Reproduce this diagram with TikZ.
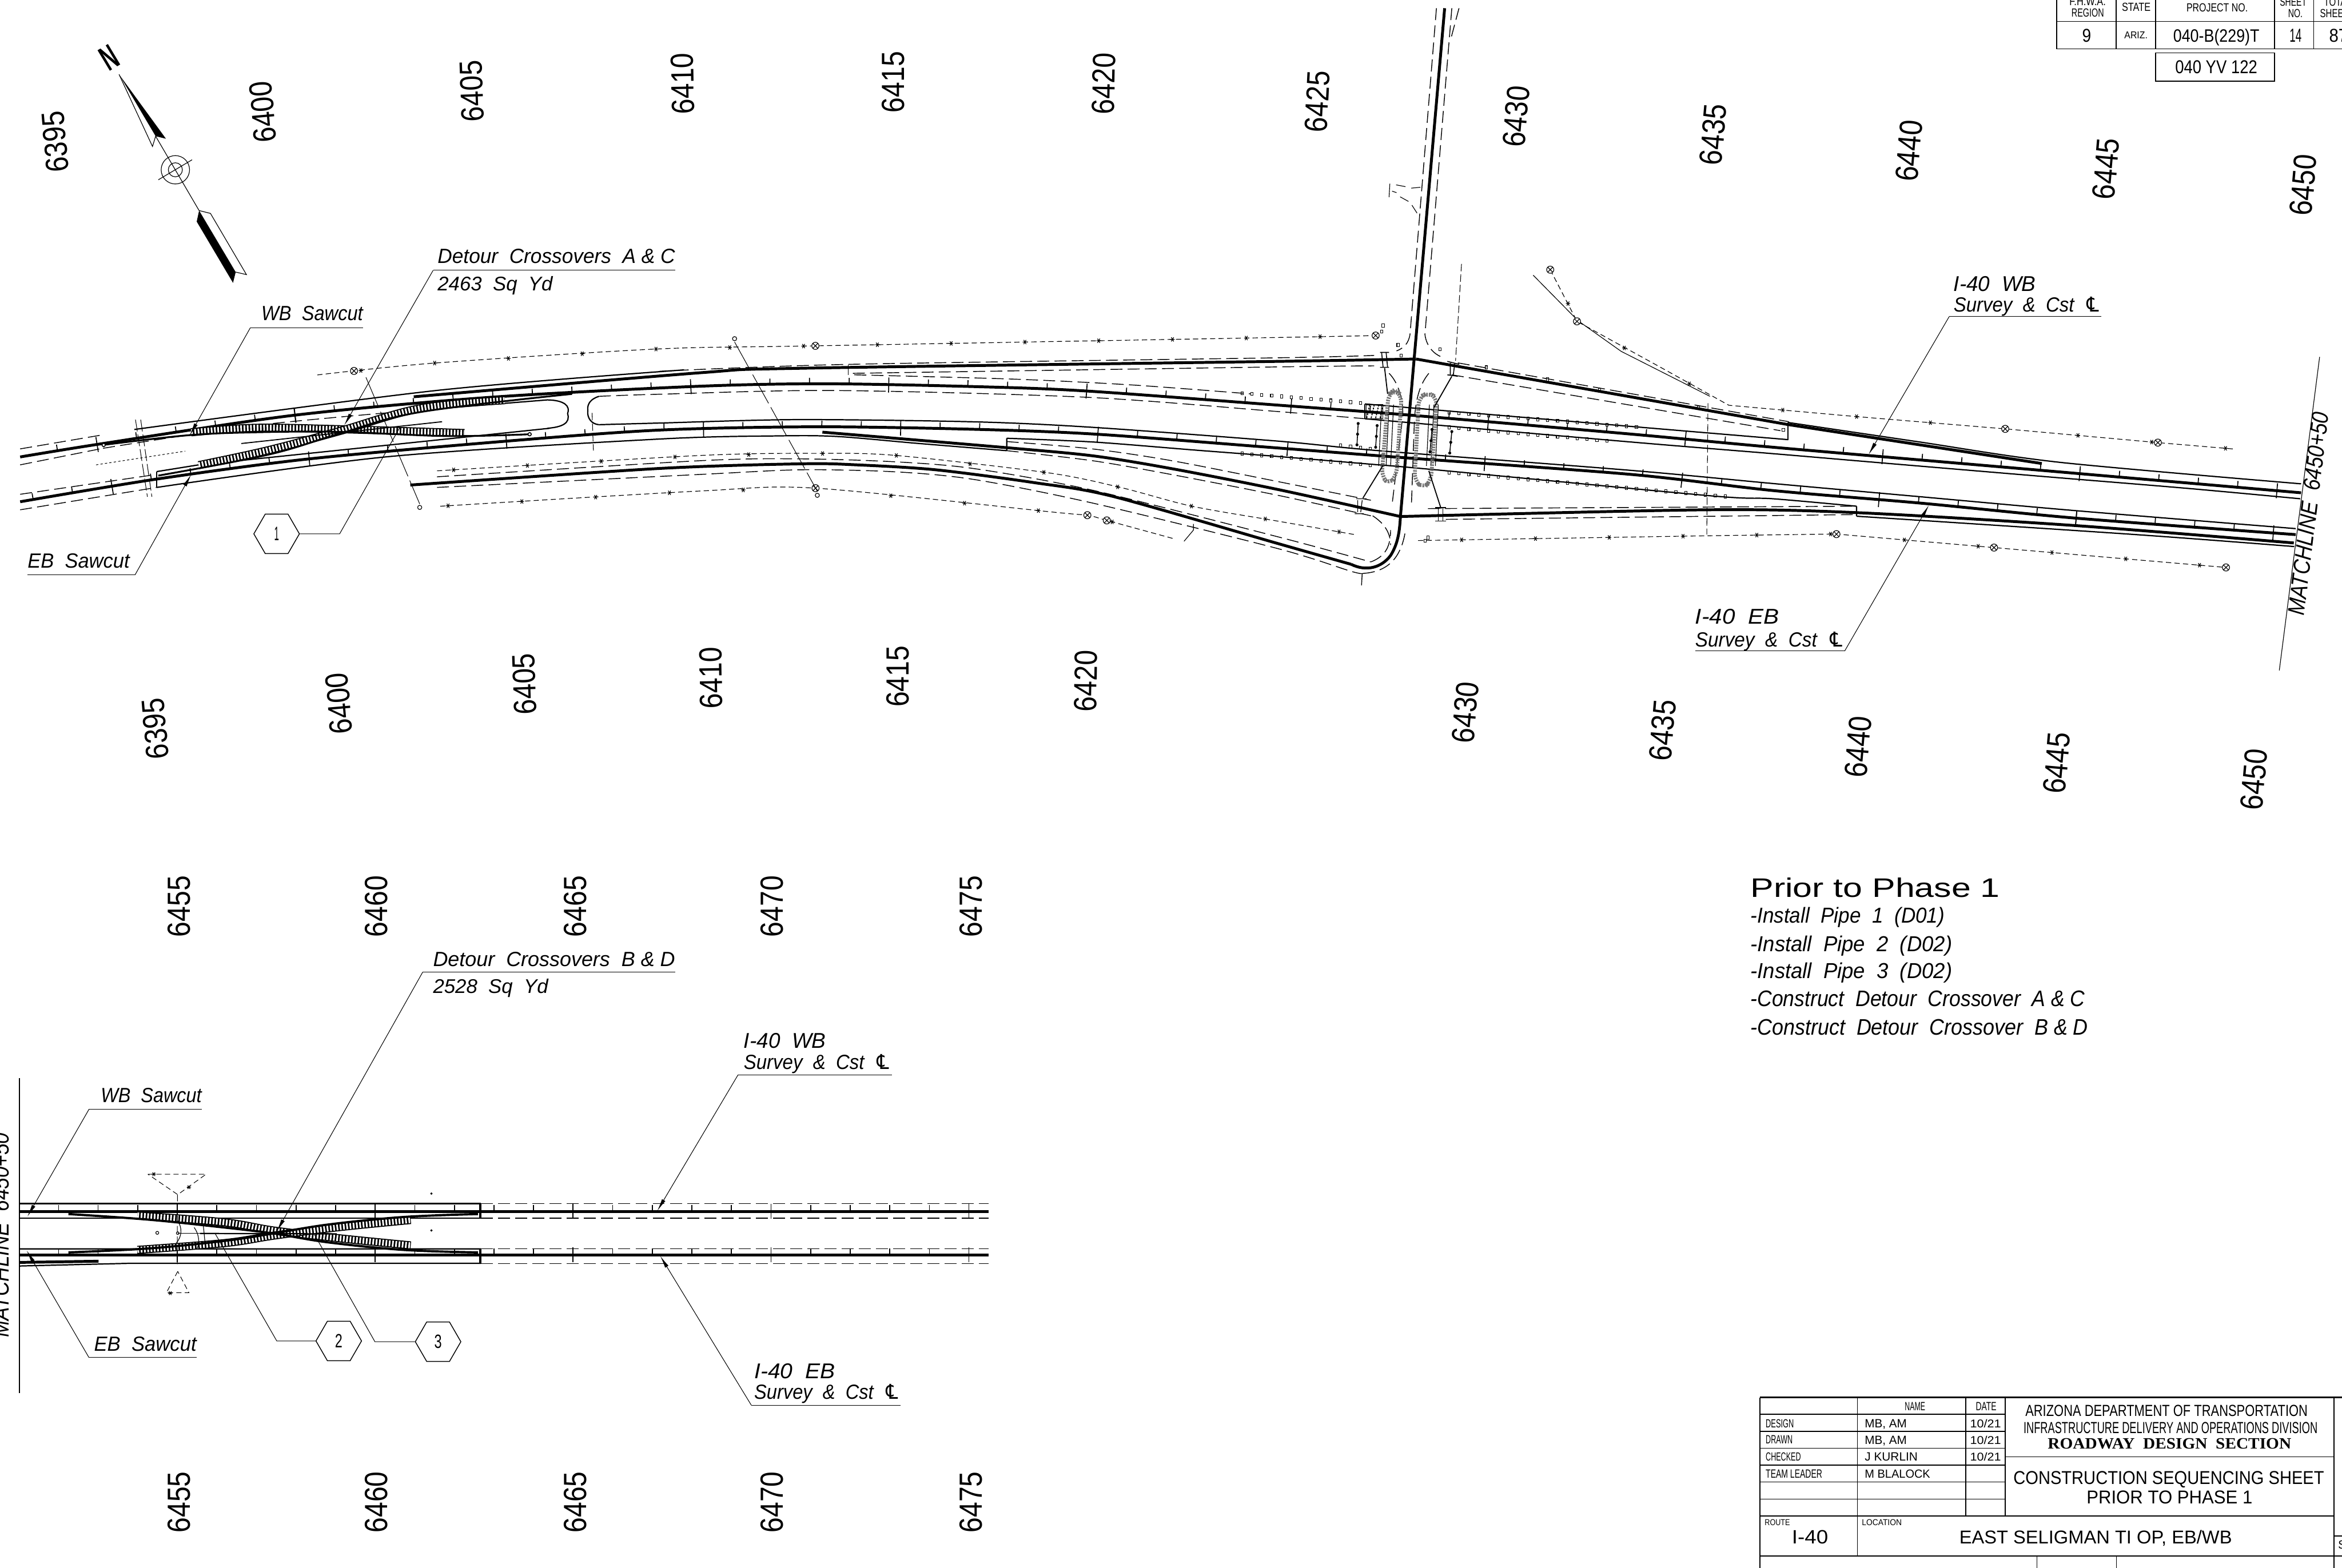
\documentclass[tikz,border=0pt]{standalone}
\usepackage{fontspec}
\usepackage{graphicx}
\setmainfont{Liberation Sans}
\newfontfamily\cadserif{Liberation Serif}
\newfontfamily\cadsym{DejaVu Sans}
\usetikzlibrary{arrows.meta,shapes.geometric,calc}
\newcommand{\cadfit}[3]{\resizebox{#1pt}{#2pt}{#3}}
\newcommand{\cadcl}{{\cadsym ℄}}
% marks along a polyline, at every step of x counted from a first x
\newcommand{\alongrun}[4]{%
	\gdef\tickprev{}%
	\foreach \px/\py in {#3}{%
		\ifx\tickprev\empty\else
			\pgfmathtruncatemacro\ia{ceil((\prevx-#1)/#2)}%
			\pgfmathtruncatemacro\ib{floor((\px-#1)/#2)}%
			\ifnum\ib<\ia\else
				\foreach \ti in {\ia,...,\ib}{%
					\pgfmathsetmacro\tx{#1+\ti*#2}%
					\pgfmathsetmacro\tslope{(\py-\prevy)/(\px-\prevx)}%
					\pgfmathsetmacro\ty{\prevy+(\tx-\prevx)*\tslope}%
					#4%
				}%
			\fi
		\fi
		\xdef\prevx{\px}\xdef\prevy{\py}\gdef\tickprev{x}%
	}%
}
\newcommand{\tickrun}[3]{\alongrun{#1}{#2}{#3}{%
	\pgfmathtruncatemacro\tmod{mod(abs(\ti),5)}%
	\ifnum\tmod=0
		\draw[tickline] (\tx+5*\tslope,\ty-5)--(\tx-5*\tslope,\ty+5);
	\else
		\draw[tickline] (\tx,\ty)--(\tx+4.2*\tslope,\ty-4.2);
	\fi}}
\newcommand{\starrun}[3]{\alongrun{#1}{#2}{#3}{\draw[tickline,line width=.45pt] (\tx-1.4,\ty)--(\tx+1.4,\ty) (\tx-.8,\ty-1.4)--(\tx+.8,\ty+1.4) (\tx-.8,\ty+1.4)--(\tx+.8,\ty-1.4);}}
\newcommand{\squarerun}[1]{\alongrun{0}{6.6}{#1}{\draw[tickline,line width=.4pt] (\tx-.8,\ty-1) rectangle (\tx+.8,\ty+1);}}
\tikzset{
	cadtext/.style={anchor=base west,inner sep=0pt,outer sep=0pt},
	cadmid/.style={anchor=center,inner sep=0pt,outer sep=0pt},
	roadmain/.style={line width=1.9pt},
	roadedge/.style={line width=.85pt},
	roaddash/.style={line width=.55pt,dash pattern=on 8pt off 3.5pt},
	fineline/.style={line width=.45pt},
	tickline/.style={solid,line width=.65pt},
	tableline/.style={line width=.6pt},
	longdash/.style={line width=.4pt,dash pattern=on 22pt off 3pt},
	leader/.style={line width=.4pt},
	tipped/.style={-{Latex[length=8.5pt,width=2.6pt]}},
	hexmark/.style={draw,line width=.55pt,regular polygon,regular polygon sides=6,minimum size=30.5pt,inner sep=0pt},
	hatchband/.style={draw=white,line width=4pt,dash pattern=on 1.1pt off 1.1pt,preaction={draw=black,solid,line width=5.4pt}},
	rockband/.style={draw=black!55,line width=2.6pt,dash pattern=on 1pt off .7pt},
	fenceline/.style={line width=.45pt,dash pattern=on 3.5pt off 2.2pt}
}
\begin{document}
\begin{tikzpicture}[x=1pt,y=-1pt]
\useasboundingbox (0,0) rectangle (1568,1050);
% stations
\foreach \lab/\x/\y/\r in {6395/37/95/95,6400/176/75/95,6405/316/61/92,6410/457/56/91,6415/598/55/90,6420/739/56/89,6425/882/68/87,6430/1015/78/85,6435/1147/90/85,6440/1278/101/85,6445/1410/113/85,6450/1542/124/85}
	\node[cadmid,rotate=\r] (top\lab) at (\x,\y) {\cadfit{41}{15}{\lab}};
\foreach \lab/\x/\y/\r in {6395/104/488/95,6400/227/471/95,6405/351/458/92,6410/476/454/91,6415/601/453/90,6420/727/456/89,6430/981/477/85,6435/1113/489/85,6440/1244/500/85,6445/1377/511/85,6450/1509/522/85}
	\node[cadmid,rotate=\r] (low\lab) at (\x,\y) {\cadfit{41}{15}{\lab}};
\foreach \lab/\x in {6455/120,6460/252,6465/385,6470/517,6475/650}{
	\node[cadmid,rotate=90] (north\lab) at (\x,607) {\cadfit{41}{15}{\lab}};
	\node[cadmid,rotate=90] (south\lab) at (\x,1006) {\cadfit{41}{15}{\lab}};
}
% north arrow
\node[cadmid,rotate=31] (northN) at (73,38.5) {\cadfit{10}{16}{\bfseries N}};
\fill (79.7,49.8)--(111.1,92.9)--(104.2,91.2)--cycle;
\draw[fineline] (79.7,49.8)--(102.1,98.1)--(104.2,91.2)--(133.3,141);
\draw[fineline] (117.4,113.7) circle (9.5) circle (4.7) (106,120.4)--(128.6,107);
\fill (133.3,141)--(131.7,148.4)--(156,189.4)--(157.8,182.2)--cycle;
\draw[fineline] (133.3,141)--(140.9,142.9)--(165,183.9)--(157.8,182.2);
% WB and EB mainline, upper plan
\draw[roadmain] plot[smooth,tension=.5] coordinates {(13.5,306)(69,297)(197.5,278)(329,266)(467,258.7)(552.5,257)(652.8,258.9)(726.7,261.8)(855.6,271.3)(944,278)(1092,290.7)(1187,299.5)(1367,315)(1540.6,330)};
\tickrun{197.5}{26.5}{13.5/306,69/297,197.5/278,329/266,467/258.7,552.5/257,652.8/258.9,726.7/261.8,850/270.9}
\tickrun{864.4}{26.4}{855.6/271.3,944/278,1092/290.7,1187/299.5,1367/315,1540.6/330}
\draw[roadmain] plot[smooth,tension=.5] coordinates {(13.5,336)(105,320.8)(206,307.4)(338,295.5)(441.6,288)(547,285.8)(652.8,287.5)(734.6,290.8)(855.6,300)(941.5,306.6)(1092,317.7)(1187,328.5)(1286.7,337)(1390,347)(1537,358)};
\tickrun{207}{26.4}{13.5/336,105/320.8,206/307.4,338/295.5,441.6/288,547/285.8,652.8/287.5,734.6/290.8,855.6/300}
\tickrun{994}{26.4}{860/300.3,941.5/306.6,1092/317.7,1187/328.5,1286.7/337,1390/347,1537/358}
% ramps
\draw[roadmain] plot[smooth,tension=.5] coordinates {(277,265.7)(469,249.6)(536.6,246.6)(855.6,242)(948,240.4)};
\draw[roadmain] (948,240.4)--(1197.6,284.4) plot[smooth,tension=.5] coordinates {(1197.6,284.4)(1260,294)(1367,310.4)};
\draw[roadmain] plot[smooth,tension=.5] coordinates {(550.6,289.4)(674,299.8)(732,305.3)(784.8,313.9)(855.6,327.8)(937.6,345.9)};
\draw[roadmain] plot[smooth,tension=.5] coordinates {(937.6,345.9)(1142,341.4)(1243,343.3)(1390,352)(1535.7,363.6)};
\draw[roadmain] plot[smooth,tension=.5] coordinates {(274.7,324.8)(441.6,313.7)(536.6,310.6)(573.6,311.3)(626.4,314.6)(692.4,323.2)(745,332.4)(855.6,364)(904.6,377.9)};
\draw[roadmain] (904.6,377.9) .. controls (915,383) and (925,380) .. (931,372) .. controls (936,364) and (937,356) .. (937.6,345.9);
\draw[roadmain] (967.2,5.5)--(937.6,345.9);
% crossroad edges
\draw[roaddash] (961.7,5.5)--(944,224) .. controls (943,230) and (940,233) .. (935,235);
\draw[roaddash] (972,5.5)--(954,224) .. controls (955,232) and (960,237) .. (965,239);
\draw[roaddash] (976.8,5.5)--(970.9,27.7);
\draw[roaddash] (956.6,250) .. controls (950,258) and (948,268) .. (947,280) -- (945,337);
\draw[roaddash] (930,250) .. controls (936,256) and (940,268) .. (939,280) -- (932,338);
\draw[roaddash] (912,384)--(911.4,394.5);
\draw[fineline] (930.5,123)--(930,132) (934.7,123.8)--(941,125) (944.8,126)--(951,125.4) (932,128)--(935,129) (937.4,131.8)--(943,134.9) (945.3,137.4)--(948.7,142.7);
% edges of the mainline
\draw[roaddash] (13.5,300.6)--(67,291.5);
\draw[roaddash] (13.5,311.3)--(69,300.2) plot[smooth] coordinates {(69,300.2)(170,285)(276,275)};
\draw[roaddash] (13.5,331)--(105,317.7);
\draw[roaddash] (13.5,341.4)--(105,326.4);
\draw[roadedge] plot[smooth,tension=.5] coordinates {(90,287.6)(293,261.4)(458,247.7)};
\draw[roadedge] (276.8,275)--(366.5,267.8) .. controls (378,268) and (382,272) .. (380,277) .. controls (382,283) and (377,286) .. (366.5,286.8);
\draw[roadedge] (401,265.4) .. controls (396,267) and (393,270) .. (393.5,274.9) .. controls (393,280) and (396,284) .. (401,284.4);
\draw[roadedge] (105,315.8)--(105,326.4);
\draw[roadedge] plot[smooth,tension=.5] coordinates {(105,326.4)(260,305.8)(441.6,294)(520.8,291.9)(560.4,292.3)(613,296.8)(674,301.8)};
\draw[roadedge] (105,315.8)--(133,311.3)--(368,286.8);
\draw[roadedge] plot[smooth,tension=.5] coordinates {(401,284.4)(441.6,283.3)(534,281)(652.8,282.5)(732,286.2)(855.6,295.4)(923,301.8)(1092,315)(1187,323.8)(1284,332.5)(1390,342)(1537,354)};
\draw[roadedge] plot[smooth,tension=.5] coordinates {(913.8,270.5)(1097,286)(1197,294.4)};
\draw[roadedge] plot[smooth,tension=.5] coordinates {(913.8,280.4)(1092,296)(1187,303.8)(1260,310)(1367,319)(1464,327)(1540,334)};
\draw[roadedge] plot[smooth,tension=.5] coordinates {(1197,282.9)(1284,295.8)(1379,309.6)(1540.6,324)};
\draw[roadedge] (1197,282.9)--(1197,294.6);
\draw[roadedge] (674,293.5)--(674,301.8) plot[smooth,tension=.5] coordinates {(674,293.5)(732,296)(800,301.4)(855.6,305.7)(923,311.3)};
\draw[roadedge] plot[smooth,tension=.5] coordinates {(923,311.3)(960,314.5)(1145,332)(1187,334)(1243,339)};
\draw[roadedge] (1243,339)--(1243,345.7) plot[smooth,tension=.5] coordinates {(1243,345.7)(1430,358)(1536,366)};
% dashed shoulders
\draw[roaddash] plot[smooth,tension=.5] coordinates {(441.6,248.6)(568,244)(855.6,239.6)(920,238)};
\draw[roaddash] plot[smooth,tension=.5] coordinates {(571,250)(855.6,245.7)(920,245)};
\draw[roaddash] (568,244.4)--(568,251);
\draw[roaddash] plot[smooth,tension=.5] coordinates {(572,251)(679,253.9)(758,257.8)(837.6,263.8)};
\draw[roaddash] plot[smooth,tension=.5] coordinates {(401,265.4)(441.6,264)(557.8,261.5)(726.7,266)(855.6,275.6)(913.8,280.4)};
\draw[roaddash] plot[smooth,tension=.5] coordinates {(674,295.7)(732,300.7)(785,308.6)(855.6,322.5)(917.8,335)};
\draw[roaddash] plot[smooth,tension=.5] coordinates {(674,301.8)(732,308.6)(785,317.9)(855.6,331.7)(917.8,345.4)};
\draw[roaddash] plot[smooth,tension=.5] coordinates {(292.6,319.3)(469,308.5)(536.6,307.3)(600,309.3)(652.8,313.9)(732,328.4)(855.6,359.5)(917.8,376.3)};
\draw[roaddash] plot[smooth,tension=.5] coordinates {(292.6,326.4)(469,317.7)(536.6,314.6)(600,316)(652.8,321.2)(732,337)(855.6,367.4)(904.6,382.6)(912.5,384)};
\draw[roaddash] (917.8,376.3) .. controls (926,373) and (931,368) .. (931,355) (919,345.4) .. controls (926,350) and (931,356) .. (931,365);
\draw[roaddash] (912.5,384) .. controls (928,383) and (938,375) .. (941,355);
\draw[roaddash] (976,243)--(1197.6,282.4) (972,251)--(1192,288.4);
\draw[roaddash] (956,340.6)--(1242,339) (968,347.8)--(1242,344.6);
% fences
\draw[fenceline] plot[smooth,tension=.5] coordinates {(212.4,251.1)(290,243.2)(440,233.7)(545.9,231.6)(855.6,226)(921,224.7)};
\starrun{291}{49.4}{212.4/251.1,290/243.2,440/233.7,545.9/231.6,855.6/226,921/224.7}
\draw[fenceline] plot[smooth,tension=.5] coordinates {(292.6,315.3)(469,305)(547,303.6)(600,305)(701.6,316.6)(750.5,326.5)(798,339)(855.6,349)(907,358)};
\starrun{303.7}{49.4}{292.6/315.3,469/305,547/303.6,600/305,701.6/316.6,750.5/326.5,798/339,855.6/349,907/358}
\draw[fenceline] plot[smooth,tension=.5] coordinates {(294.7,339)(469,328.8)(546,326.9)(705.6,343)(728,345)(741,348.5)(786,360.8)};
\starrun{300}{49.4}{294.7/339,469/328.8,546/326.9,705.6/343,728/345,741/348.5,786/360.8}
\draw[fenceline] (1037.9,180.6)--(1055.8,215.2)--(1110,245)--(1157.5,271.4)--(1242,278.9)--(1342.5,287.2)--(1444.7,296.4)--(1496.9,300.8);
\starrun{1193.6}{49.4}{1157.5/271.4,1242/278.9,1342.5/287.2,1444.7/296.4,1496.9/300.8}
\draw[fenceline] (949.4,362)--(1142,358.8)--(1229,357.6)--(1335,366.7)--(1490.3,380);
\starrun{1028}{49.4}{949.4/362,1142/358.8,1229/357.6,1335/366.7,1490.3/380}
\foreach \x/\y in {1049.8/203.3,1087.5/233,1131/257}
	\draw[tickline,line width=.45pt] (\x-1.4,\y)--(\x+1.4,\y) (\x-.8,\y-1.4)--(\x+.8,\y+1.4) (\x-.8,\y+1.4)--(\x+.8,\y-1.4);
\draw[fineline] (1026.5,184.3)--(1056.4,214.7)--(1085.4,235.3)--(1144.8,265.4);
\foreach \x/\y in {237/248.4,545.9/231.6,921/224.7,546/326.9,728/345,741/348.5,1037.9/180.6,1055.8/215.2,1229.5/357.7,1335/366.7,1342.5/287.2,1444.7/296.4,1490.3/380}
	\draw[line width=.45pt,fill=white] (\x,\y) circle (2.4) (\x-1.7,\y-1.7)--(\x+1.7,\y+1.7) (\x-1.7,\y+1.7)--(\x+1.7,\y-1.7);
% utility runs
\draw[longdash] (491.8,229)--(547.2,329);
\draw[longdash] (245,252.7)--(281,337.5);
\draw[fineline] (491.8,226.8) circle (1.4) (547.2,331.7) circle (1.4) (281,339.8) circle (1.4);
\draw[line width=.4pt,dash pattern=on 5pt off 2pt] (1143.5,270)--(1142.7,358) (978.5,176.7)--(974.5,241.6);
\draw[line width=.4pt,dash pattern=on 5pt off 2pt] (396.4,276.5)--(397.3,301.8);
\draw[line width=.4pt,dash pattern=on 1.5pt off 1.5pt] (64.3,311.3)--(124,302.1);
\draw[line width=.4pt,dash pattern=on 8pt off 2pt] (90.7,281)--(98.7,332.7) (94.2,281)--(101.7,332.7);
% crossovers, upper plan
\draw[hatchband] plot[smooth,tension=.6] coordinates {(128,289.5)(170.5,286.5)(227,287.4)(311,290)};
\draw[hatchband] plot[smooth,tension=.6] coordinates {(133,311.5)(179.5,301.5)(227,288.8)(281,273.5)(338,268)};
\draw[line width=1.2pt] plot[smooth,tension=.6] coordinates {(69.4,297.9)(125.7,291.5)(170.5,289.5)(227,289.2)(299,292)(354.6,290.8)};
\draw[line width=1.2pt] plot[smooth,tension=.6] coordinates {(106,318.5)(179.5,304.5)(227,290.5)(281,276)(383,263.8)};
\draw[line width=.7pt] (161.6,297)--(296,282.4);
\draw[fill=white,line width=.6pt] (69.4,298) circle (1.1) (354.6,290.8) circle (1.1);
% intersection
\squarerun{828/263,913/270}
\squarerun{968/276,1097/286}
\squarerun{968/286,1079/295.5}
\squarerun{828/303.4,923/312}
\squarerun{894/298,923/301}
\squarerun{965/316,1158/332.7}
\draw[line width=.9pt] (913.8,270.5)--(913.8,280.4);
\draw[line width=.5pt] (914.6,271) rectangle (925.7,280.4);
\foreach \x in {915,918,921,924}
	\draw[line width=.7pt,dash pattern=on 1.2pt off .8pt] (\x,280)--(\x+2,271.5);
\foreach \x in {923,928,931,955,958,961}
	\draw[fineline] (\x+2,271)--(\x,312);
\draw[rockband,rounded corners=5pt] (929.6,264)--(933.6,261)--(938.4,264.6)--(935,318)--(930,324.6)--(925,319)--cycle;
\draw[rockband,rounded corners=5pt] (950,266)--(956,263)--(962,266)--(958,322)--(953,327)--(947,322)--cycle;
\draw[line width=.7pt] (927,246.4)--(929,263.8) (972,252)--(960,273) (925.7,312)--(912.5,333.5) (956.6,315.3)--(964.8,340.6);
\draw[line width=.6pt] (924,236)--(930,236) (924,246)--(930,246) (925,236)--(926,246) (928,236)--(929,246);
\draw[line width=.6pt] (969,242)--(977,244) (969,251)--(976,252) (971,243)--(971,251) (974,243)--(973,251);
\draw[line width=.5pt] (908,334)--(915,334) (907,344)--(913,344) (909,335)--(909,343) (912,335)--(911,343);
\draw[line width=.6pt] (961,340)--(968,340) (961,349)--(968,349) (963,340)--(963,349) (966,340)--(966,349);
\foreach \xa/\ya/\xb/\yb in {909.3/283.6/908.5/297.9,922/285/921/299.5,958.7/287.6/957.4/302.6,972/289/970.6/303.4}{
	\draw[line width=.6pt] (\xa,\ya)--(\xb,\yb);
	\fill (\xa,\ya) circle (1) (\xb,\yb) circle (1) ($(\xa,\ya)!.5!(\xb,\yb)$) circle (1);
}
\foreach \x/\y in {936/231,938/238,995/246,1036/254,1071/261,1137/273,1194/288,964/234,926/218,925/222,956/360,954/362}
	\draw[line width=.4pt] (\x-.8,\y-1) rectangle (\x+.8,\y+1);
\draw[fineline] (799,350.9)--(799,355)--(792.7,362.5);
% lower plan mainline
\draw[roadmain] (13,811.3)--(662,811.3) (13,840.4)--(662,840.4);
\tickrun{118.7}{26.5}{39/811.3,662/811.3}
\tickrun{118.7}{26.5}{39/840.4,662/840.4}
\draw[roadedge] (13,806)--(321.5,806)--(321.5,815.7)--(60.6,815.7);
\draw[roadedge] (13,815.7)--(60.6,815.7);
\draw[roadedge] (13,836.3)--(321.5,836.3)--(321.5,846)--(87,846)--(13,847.8);
\draw[roaddash] (322,806)--(662,806) (322,815.8)--(662,815.8) (322,836.2)--(662,836.2) (322,846.1)--(662,846.1);
\draw[roadmain] (13,845.4)--(66,844.6);
\draw[line width=1.6pt] (321.5,806)--(321.5,815.7) (321.5,836.3)--(321.5,846);
% crossovers, lower plan
\draw[hatchband] plot[smooth,tension=.6] coordinates {(92,814)(150,818.5)(183,824)(225,829)(275,834)};
\draw[hatchband] plot[smooth,tension=.6] coordinates {(92,837)(150,832.5)(183,827.5)(225,822)(275,817)};
\draw[line width=1.5pt] plot[smooth,tension=.6] coordinates {(45.8,813)(100,816.8)(150,822)(183,826)(220,832)(270,837)(320,838.7)};
\draw[line width=1.5pt] plot[smooth,tension=.6] coordinates {(45.8,838.7)(100,836)(150,831)(183,826)(220,820)(270,815)(320,813)};
\draw[roadedge] (134,826)--(225.4,826.3);
\draw[fineline] (119,826)--(134,826);
\draw[fineline] (119,817.6) .. controls (122,822) and (122,828) .. (118,832.4);
\draw[fineline] (130,822) .. controls (133,826) and (134,832) .. (132,836) (136,820) .. controls (137,828) and (137,832) .. (138,836);
\draw[fineline] (105.3,825.6) circle (1) (119,825.8) circle (.9) (288.8,799.3) circle (.5) (288.8,824) circle (.5);
% cross section marks
\draw[line width=.4pt,dash pattern=on 3.5pt off 2.2pt] (99,786.3)--(138,786.3)--(119,800)--cycle;
\draw[line width=.4pt,dash pattern=on 4.5pt off 2.5pt] (118.8,800)--(118.7,848.5);
\draw[line width=.4pt,dash pattern=on 3.5pt off 2.2pt] (119,851.4)--(111.4,865.7)--(126.5,865.7)--cycle;
\foreach \x/\y in {103/786.3,126.5/795,114/866}
	\draw[line width=.45pt] (\x-1.4,\y)--(\x+1.4,\y) (\x-.8,\y-1.2)--(\x+.8,\y+1.2) (\x-.8,\y+1.2)--(\x+.8,\y-1.2);
% matchlines
\draw[fineline] (1553,239)--(1526,449);
\node[cadmid,rotate=83] (matchone) at (1545.5,344) {\cadfit{137}{11}{\itshape MATCHLINE\ \ 6450+50}};
\draw[fineline] (13,722)--(13,933);
\node[cadmid,rotate=90] (matchtwo) at (0.5,827) {\cadfit{137}{11}{\itshape MATCHLINE\ \ 6450+50}};
% leaders, upper plan
\node[cadtext] (labelac) at (293,176.4) {\cadfit{159}{9.6}{\itshape Detour\ \ Crossovers\ \ A\ \&\ C}};
\node[cadtext] (areaac) at (293,194.6) {\cadfit{77}{9.6}{\itshape 2463\ \ Sq\ \ Yd}};
\coordinate (acbend) at (290,181);
\coordinate (actip) at (230.4,285);
\draw[leader] (452,181)--(acbend);
\draw[leader,tipped] (acbend)--(actip);
\node[cadtext] (labelwbone) at (175,214.7) {\cadfit{68}{9.6}{\itshape WB\ \ Sawcut}};
\coordinate (wbonebend) at (167.6,219.5);
\coordinate (wbonetip) at (127,291.5);
\draw[leader] (243,219.5)--(wbonebend);
\draw[leader,tipped] (wbonebend)--(wbonetip);
\node[cadtext] (labelebone) at (18.5,380.2) {\cadfit{68.3}{9.6}{\itshape EB\ \ Sawcut}};
\coordinate (ebonebend) at (90.4,385);
\coordinate (ebonetip) at (128,317.7);
\draw[leader] (18.5,385)--(ebonebend);
\draw[leader,tipped] (ebonebend)--(ebonetip);
\node[hexmark] (hexone) at (185.2,357.5) {\cadfit{3.2}{9}{1}};
\coordinate (hexonebend) at (227.4,357.5);
\coordinate (hexonetip) at (267.8,286);
\draw[leader] (hexone.east)--(hexonebend)--(hexonetip);
\node[cadtext] (labelwbsurvey) at (1308,195) {\cadfit{55}{10}{\itshape I-40\ \ WB}};
\node[cadtext] (textwbsurvey) at (1308,209) {\cadfit{99}{10}{\itshape Survey\ \ \&\ \ Cst\ \ \cadcl}};
\coordinate (wbsurveybend) at (1305,212);
\coordinate (wbsurveytip) at (1251,304.5);
\draw[leader] (1407,212)--(wbsurveybend);
\draw[leader,tipped] (wbsurveybend)--(wbsurveytip);
\node[cadtext] (labelebsurvey) at (1135,418) {\cadfit{56}{10}{\itshape I-40\ \ EB}};
\node[cadtext] (textebsurvey) at (1135,433) {\cadfit{100}{10}{\itshape Survey\ \ \&\ \ Cst\ \ \cadcl}};
\coordinate (ebsurveybend) at (1235,436);
\coordinate (ebsurveytip) at (1291.4,338.3);
\draw[leader] (1135,436)--(ebsurveybend);
\draw[leader,tipped] (ebsurveybend)--(ebsurveytip);
% leaders, lower plan
\node[cadtext] (labelbd) at (290,647) {\cadfit{162}{9.6}{\itshape Detour\ \ Crossovers\ \ B\ \&\ D}};
\node[cadtext] (areabd) at (290,665) {\cadfit{77}{9.6}{\itshape 2528\ \ Sq\ \ Yd}};
\coordinate (bdbend) at (283,651);
\coordinate (bdtip) at (185.3,824.6);
\draw[leader] (452,651)--(bdbend);
\draw[leader,tipped] (bdbend)--(bdtip);
\node[cadtext] (labelwbtwo) at (67.5,738.4) {\cadfit{67.5}{9.6}{\itshape WB\ \ Sawcut}};
\coordinate (wbtwobend) at (59.5,743);
\coordinate (wbtwotip) at (18.3,814.8);
\draw[leader] (135,743)--(wbtwobend);
\draw[leader,tipped] (wbtwobend)--(wbtwotip);
\node[cadtext] (labelebtwo) at (63,904.9) {\cadfit{68.6}{9.6}{\itshape EB\ \ Sawcut}};
\coordinate (ebtwobend) at (59.5,909);
\coordinate (ebtwotip) at (17.8,837.3);
\draw[leader] (131.6,909)--(ebtwobend);
\draw[leader,tipped] (ebtwobend)--(ebtwotip);
\node[hexmark] (hextwo) at (226.8,898) {\cadfit{5}{9}{2}};
\coordinate (hextwobend) at (185.3,898);
\coordinate (hextwotip) at (144,826);
\draw[leader] (hextwo.west)--(hextwobend)--(hextwotip);
\node[hexmark] (hexthree) at (293.3,898.5) {\cadfit{5}{9}{3}};
\coordinate (hexthreebend) at (251,898.5);
\coordinate (hexthreetip) at (210.5,826.7);
\draw[leader] (hexthree.west)--(hexthreebend)--(hexthreetip);
\node[cadtext] (labelwbcl) at (498,702) {\cadfit{55}{10}{\itshape I-40\ \ WB}};
\node[cadtext] (textwbcl) at (498,716) {\cadfit{99}{10}{\itshape Survey\ \ \&\ \ Cst\ \ \cadcl}};
\coordinate (wbclbend) at (494,720);
\coordinate (wbcltip) at (440,811);
\draw[leader] (597,720)--(wbclbend);
\draw[leader,tipped] (wbclbend)--(wbcltip);
\node[cadtext] (labelebcl) at (505,923) {\cadfit{54}{10}{\itshape I-40\ \ EB}};
\node[cadtext] (textebcl) at (505,937) {\cadfit{98}{10}{\itshape Survey\ \ \&\ \ Cst\ \ \cadcl}};
\coordinate (ebclbend) at (503,941);
\coordinate (ebcltip) at (442,841);
\draw[leader] (603,941)--(ebclbend);
\draw[leader,tipped] (ebclbend)--(ebcltip);
% phase notes
\node[cadtext] (phasehead) at (1172,601) {\cadfit{167}{13}{Prior to Phase 1}};
\foreach \txt/\w/\y [count=\i] in {-Install\ \ Pipe\ \ 1\ \ (D01)/130/618,-Install\ \ Pipe\ \ 2\ \ (D02)/135/637,-Install\ \ Pipe\ \ 3\ \ (D02)/135/655,-Construct\ \ Detour\ \ Crossover\ \ A\ \&\ C/224/674,-Construct\ \ Detour\ \ Crossover\ \ B\ \&\ D/226/693}
	\node[cadtext] (phase\i) at (1172,\y) {\cadfit{\w}{10.5}{\itshape\txt}};
% project table
\draw[tableline] (1377,0)--(1377,32.8)--(1568,32.8) (1377,14.4)--(1568,14.4);
\foreach \x in {1416.7,1443.2,1522.7,1549}
	\draw[tableline] (\x,0)--(\x,32.8);
\draw[tableline] (1443.2,35.4) rectangle (1522.7,54.3);
\node[cadtext] (tfhwa) at (1385.5,3.5) {\cadfit{24.3}{5.5}{F.H.W.A.}};
\node[cadtext] (tregion) at (1386.9,11.2) {\cadfit{21.7}{5.5}{REGION}};
\node[cadtext] (tstate) at (1420.6,7.5) {\cadfit{19.2}{5.5}{STATE}};
\node[cadtext] (tproject) at (1463.9,7.8) {\cadfit{41}{5.5}{PROJECT NO.}};
\node[cadtext] (tsheet) at (1526.4,3.9) {\cadfit{17.9}{5.5}{SHEET}};
\node[cadtext] (tno) at (1531.9,11.7) {\cadfit{9.7}{5.5}{NO.}};
\node[cadtext] (ttotal) at (1556,3.9) {\cadfit{18}{5.5}{TOTAL}};
\node[cadtext] (tsheets) at (1553.3,11.7) {\cadfit{23}{5.5}{SHEETS}};
\node[cadtext] (tnine) at (1394,28) {\cadfit{6}{8.7}{9}};
\node[cadtext] (tariz) at (1422.3,26) {\cadfit{15.5}{4.6}{ARIZ.}};
\node[cadtext] (tnumber) at (1455,28) {\cadfit{57.7}{8.7}{040-B(229)T}};
\node[cadtext] (tfourteen) at (1532.9,28) {\cadfit{8}{8.7}{14}};
\node[cadtext] (teightyseven) at (1559.4,28) {\cadfit{12.5}{8.7}{87}};
\node[cadtext] (tyv) at (1456.3,49.2) {\cadfit{55}{8.7}{040 YV 122}};
% title block
\draw[line width=1.1pt] (1178.3,935.8)--(1568,935.8);
\draw[line width=.7pt] (1178.3,935.8)--(1178.3,1050);
\foreach \y in {947.1,958.5,969.9,981.2,992.5,1003.9}
	\draw[tableline] (1178.3,\y)--(1342.6,\y);
\draw[tableline] (1178.3,1015.2)--(1562.6,1015.2) (1178.3,1041.9)--(1568,1041.9) (1342.6,975.5)--(1562.6,975.5) (1562.6,1028.6)--(1568,1028.6);
\draw[tableline] (1243.5,935.8)--(1243.5,1041.9) (1316,935.8)--(1316,1015.2) (1342.6,935.8)--(1342.6,1015.2) (1562.6,935.8)--(1562.6,1050);
\draw[tableline] (1363.7,1041.9)--(1363.7,1050) (1416.9,1041.9)--(1416.9,1050);
\node[cadtext] (bname) at (1275.3,944.4) {\cadfit{13.6}{5.5}{NAME}};
\node[cadtext] (bdate) at (1322.8,944.4) {\cadfit{13.8}{5.5}{DATE}};
\foreach \txt/\w/\y in {DESIGN/18.8/955.9,DRAWN/18/966.6,CHECKED/23.5/978.4,TEAM LEADER/37.8/989.9}
	\node[cadtext] (role\txt) at (1182.2,\y) {\cadfit{\w}{5.5}{\txt}};
\foreach \txt/\w/\y/\i in {{MB, AM}/28.1/955.9/1,{MB, AM}/28.1/967.1/2,J KURLIN/35.4/978.4/3,M BLALOCK/43.8/989.7/4}
	\node[cadtext] (person\i) at (1248.5,\y) {\cadfit{\w}{5.5}{\txt}};
\foreach \y/\i in {955.9/1,967.1/2,978.4/3}
	\node[cadtext] (date\i) at (1319,\y) {\cadfit{20.7}{5.5}{10/21}};
\node[cadtext] (bdept) at (1356,948.5) {\cadfit{189}{7.5}{ARIZONA DEPARTMENT OF TRANSPORTATION}};
\node[cadtext] (bdiv) at (1354.8,959.7) {\cadfit{196.8}{7.5}{INFRASTRUCTURE DELIVERY AND OPERATIONS DIVISION}};
\node[cadtext] (bsection) at (1371,970.3) {\cadfit{163}{7}{\cadserif\bfseries ROADWAY\ \ DESIGN\ \ SECTION}};
\node[cadtext] (btitle) at (1348,994) {\cadfit{208}{8.7}{CONSTRUCTION SEQUENCING SHEET}};
\node[cadtext] (bphase) at (1397,1007.1) {\cadfit{111}{8.7}{PRIOR TO PHASE 1}};
\node[cadtext] (broute) at (1181.5,1021.7) {\cadfit{16.9}{4}{ROUTE}};
\node[cadtext] (blocation) at (1246.6,1021.7) {\cadfit{26.6}{4}{LOCATION}};
\node[cadtext] (bforty) at (1199.7,1033.6) {\cadfit{24.3}{9}{I-40}};
\node[cadtext] (bplace) at (1311.8,1033.6) {\cadfit{182.5}{9}{EAST SELIGMAN TI OP, EB/WB}};
\node[cadtext] (bcut) at (1565.4,1037.3) {\cadfit{5}{5.5}{S}};
\end{tikzpicture}
\end{document}
